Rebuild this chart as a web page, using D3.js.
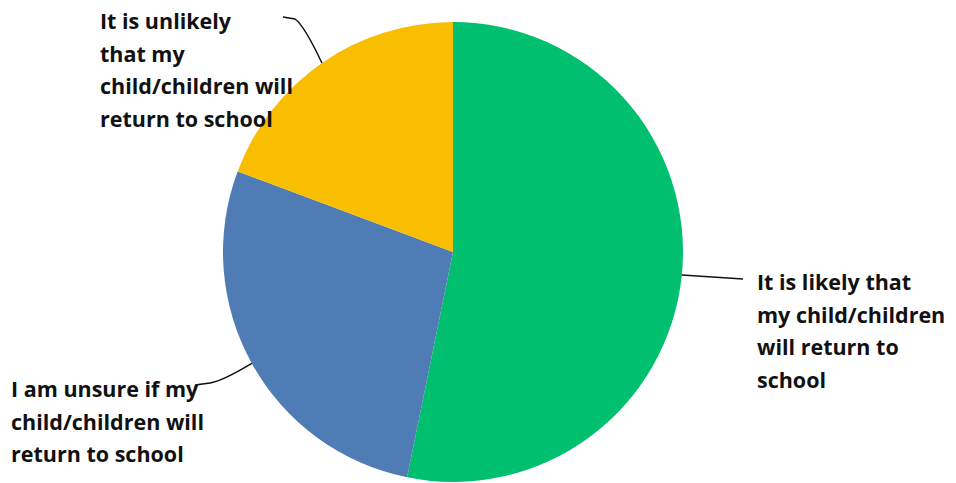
<!DOCTYPE html>
<html>
<head>
<meta charset="utf-8">
<script src="https://cdn.jsdelivr.net/npm/d3@7"></script>
<style>
  body { margin: 0; background: #fff; }
  text { font-family: "Open Sans", "Lato", sans-serif; font-weight: 700; font-size: 21.5px; fill: #111; }
</style>
</head>
<body>
<div id="chart"></div>
<script>
// Data
const categories = [
  'It is likely that my child/children will return to school',
  'I am unsure if my child/children will return to school',
  'It is unlikely that my child/children will return to school'
];
const values = [53.2, 27.5, 19.3];
const colors = ['#00BF6F', '#507CB6', '#F9BE00'];

// Label lines as they wrap in the picture
const labelLines = [
  ['It is likely that', 'my child/children', 'will return to', 'school'],
  ['I am unsure if my', 'child/children will', 'return to school'],
  ['It is unlikely', 'that my', 'child/children will', 'return to school']
];

const width = 956, height = 483;
const cx = 453, cy = 252, radius = 230;

const svg = d3.select('#chart')
  .append('svg')
  .attr('width', width)
  .attr('height', height);

const g = svg.append('g').attr('transform', `translate(${cx},${cy})`);

const pie = d3.pie().sort(null).value(d => d)(values);
const arc = d3.arc().innerRadius(0).outerRadius(radius);
const edge = d3.arc().innerRadius(radius).outerRadius(radius);

g.selectAll('path.slice')
  .data(pie)
  .enter()
  .append('path')
  .attr('class', 'slice')
  .attr('d', arc)
  .attr('fill', (d, i) => colors[i]);

// label placement (relative to centre)
const labelPos = [
  { x: 304, y: 38 },    // likely
  { x: -442, y: 145 },  // unsure
  { x: -353, y: -223 }  // unlikely
];
const lineEnds = [[290, 27], [-258, 133], [-170, -235]];

// leader lines
g.selectAll('path.leader')
  .data(pie)
  .enter()
  .append('path')
  .attr('class', 'leader')
  .attr('fill', 'none')
  .attr('stroke', '#111')
  .attr('stroke-width', 1.5)
  .attr('d', (d, i) => {
    const [sx, sy] = edge.centroid(d);
    const [ex, ey] = lineEnds[i];
    if (i === 0) return `M${sx},${sy}L${ex},${ey}`;
    if (i === 1) return `M${sx},${sy}Q${sx - 30},${sy + 18} ${ex + 15},${ey - 2}L${ex},${ey}`;
    return `M${sx},${sy}Q${sx - 18},${sy - 38} ${ex + 12},${ey + 2}L${ex},${ey}`;
  });

// labels
const labels = g.selectAll('text.label')
  .data(pie)
  .enter()
  .append('text')
  .attr('class', 'label')
  .attr('x', (d, i) => labelPos[i].x)
  .attr('y', (d, i) => labelPos[i].y);

labels.each(function(d, i) {
  d3.select(this).selectAll('tspan')
    .data(labelLines[i])
    .enter()
    .append('tspan')
    .attr('x', labelPos[i].x)
    .attr('dy', (t, j) => j === 0 ? 0 : 32.7)
    .text(t => t);
});
</script>
</body>
</html>
